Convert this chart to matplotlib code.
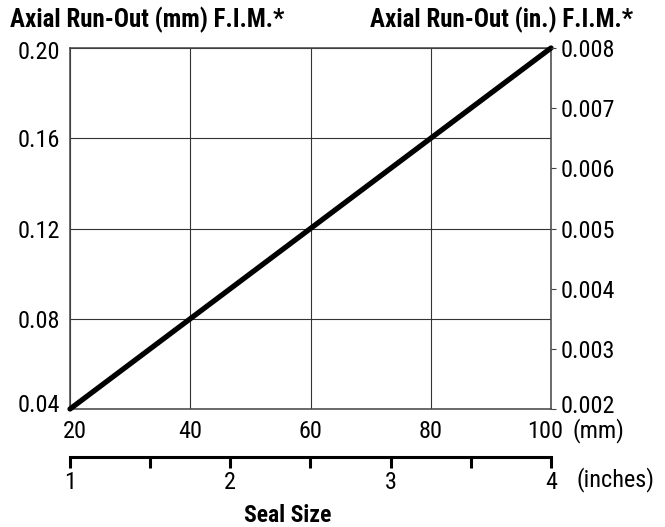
import matplotlib
matplotlib.use('Agg')
import matplotlib.pyplot as plt
import matplotlib.transforms as mtransforms

# ---- data ----
seal_mm = [20, 100]
runout_mm = [0.04, 0.20]
mm_ticks = [20, 40, 60, 80, 100]
mm_tick_labels = ['20', '40', '60', '80', '100']
left_ticks = [0.04, 0.08, 0.12, 0.16, 0.20]
left_labels = ['0.04', '0.08', '0.12', '0.16', '0.20']
right_ticks = [0.002, 0.003, 0.004, 0.005, 0.006, 0.007, 0.008]
right_labels = ['0.002', '0.003', '0.004', '0.005', '0.006', '0.007', '0.008']
inch_ticks = [1, 2, 3, 4]
inch_labels = ['1', '2', '3', '4']
inch_minor = [1.5, 2.5, 3.5]

plt.rcParams['font.family'] = ['Roboto Condensed', 'Liberation Sans', 'DejaVu Sans']
FS = 17.5

W, H = 665, 527
fig = plt.figure(figsize=(W / 100, H / 100), dpi=100)
L, R, T, B = 70, 551, 48, 409
ax = fig.add_axes([L / W, 1 - B / H, (R - L) / W, (B - T) / H])
ax.plot(seal_mm, runout_mm, color='black', lw=3.8, solid_capstyle='round',
        clip_on=False, zorder=5)
ax.set_xlim(20, 100)
ax.set_ylim(0.04, 0.20)
ax.set_xticks(mm_ticks)
ax.set_xticklabels(mm_tick_labels)
ax.set_yticks(left_ticks)
ax.set_yticklabels(left_labels)
ax.grid(True, color='#333333', lw=0.8)
ax.set_axisbelow(True)
ax.tick_params(axis='x', length=0, pad=8, labelsize=FS)
ax.tick_params(axis='y', length=0, pad=7, labelsize=FS)
for s in ax.spines.values():
    s.set_color('#444444')
    s.set_linewidth(1.1)


def shift(text, dx, dy):
    text.set_transform(text.get_transform() +
                       mtransforms.ScaledTranslation(dx / 100, dy / 100, fig.dpi_scale_trans))


# nudge end labels like the reference
xt = ax.xaxis.get_major_ticks()
shift(xt[0].label1, 5, 0)
shift(xt[-1].label1, -6, 0)
yt = ax.yaxis.get_major_ticks()
shift(yt[0].label1, 0, 6)
shift(yt[-1].label1, 0, -2)

ax2 = ax.twinx()
ax2.set_ylim(0.002, 0.008)
ax2.set_yticks(right_ticks)
ax2.set_yticklabels(right_labels)
ax2.tick_params(axis='y', length=3.6, width=0.8, color='#444444', pad=3, labelsize=FS)
for s in ax2.spines.values():
    s.set_visible(False)
rt = ax2.yaxis.get_major_ticks()
shift(rt[0].label2, 0, 5)

# inches scale
axin = fig.add_axes([L / W, 1 - 457 / H, (R - L) / W, 0.0001])
axin.set_xlim(1, 4)
axin.patch.set_visible(False)
for k in ['top', 'left', 'right']:
    axin.spines[k].set_visible(False)
axin.spines['bottom'].set_linewidth(2.2)
axin.spines['bottom'].set_color('black')
axin.set_yticks([])
axin.set_xticks(inch_ticks)
axin.set_xticklabels(inch_labels)
axin.set_xticks(inch_minor, minor=True)
axin.tick_params(axis='x', which='both', direction='out', length=8, width=2.2,
                 color='black', pad=2, labelsize=FS)

fig.text(572 / W, 1 - 431 / H, '(mm)', ha='left', va='center', fontsize=FS)
fig.text(577 / W, 1 - 480 / H, '(inches)', ha='left', va='center', fontsize=FS)
fig.text(10 / W, 1 - 20 / H, 'Axial Run-Out (mm) F.I.M.*', ha='left', va='center',
         fontsize=18, fontweight='bold')
fig.text(370 / W, 1 - 20 / H, 'Axial Run-Out (in.) F.I.M.*', ha='left', va='center',
         fontsize=18, fontweight='bold')
fig.text(288 / W, 1 - 515 / H, 'Seal Size', ha='center', va='center',
         fontsize=17, fontweight='bold')

fig.savefig('out.png', dpi=100)
